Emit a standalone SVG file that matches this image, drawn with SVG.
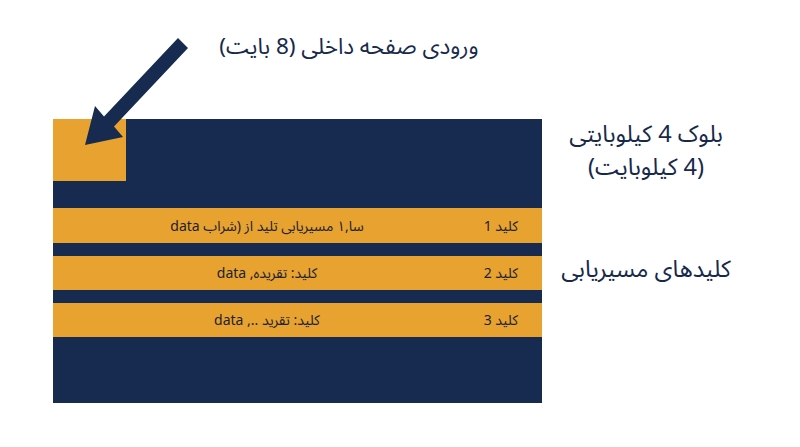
<svg xmlns="http://www.w3.org/2000/svg" width="800" height="447" viewBox="0 0 800 447">
<style>
.t{font-family:"Noto Sans Arabic","Noto Sans","DejaVu Sans",sans-serif;fill:#17294a;}
.lbl{font-size:23.5px;text-anchor:middle;}
.title{font-size:22.5px;text-anchor:middle;}
.bt{font-size:14px;fill:#1b2230;}
.bar{fill:#e8a22f;}
.navy{fill:#162b4f;}
</style>
<rect width="800" height="447" fill="#ffffff"/>
<g id="block">
<rect class="navy" x="53" y="119" width="489" height="284"/>
<rect id="entry" class="bar" x="53" y="119" width="73" height="62"/>
</g>
<g id="key1">
<rect class="bar" x="53" y="208" width="489" height="35"/>
<text class="t bt" x="518" y="231" text-anchor="start" direction="rtl">کلید 1</text>
<text class="t bt" x="267" y="231" text-anchor="middle" direction="rtl">سا,۱ مسیریابی تلید از (شراب data</text>
</g>
<g id="key2">
<rect class="bar" x="53" y="256" width="489" height="34"/>
<text class="t bt" x="518" y="278" text-anchor="start" direction="rtl">کلید 2</text>
<text class="t bt" x="267" y="278" text-anchor="middle" direction="rtl">کلید: تقریده, data</text>
</g>
<g id="key3">
<rect class="bar" x="53" y="303" width="489" height="34"/>
<text class="t bt" x="518" y="325" text-anchor="start" direction="rtl">کلید 3</text>
<text class="t bt" x="267" y="325" text-anchor="middle" direction="rtl">کلید: تقرید .., data</text>
</g>
<g id="connectors">
<polygon class="navy" points="178,38 188,48 114,126.5 123,137 85,145 95,106 104,116.5"/>
</g>
<g id="labels">
<text class="t title" x="349" y="54" direction="rtl">ورودی صفحه داخلی (8 بایت)</text>
<text class="t lbl" x="646" y="142" direction="rtl">بلوک 4 کیلوبایتی</text>
<text class="t lbl" x="646" y="175" direction="rtl">(4 کیلوبایت)</text>
<text class="t lbl" x="646" y="277" direction="rtl">کلیدهای مسیریابی</text>
</g>
</svg>
